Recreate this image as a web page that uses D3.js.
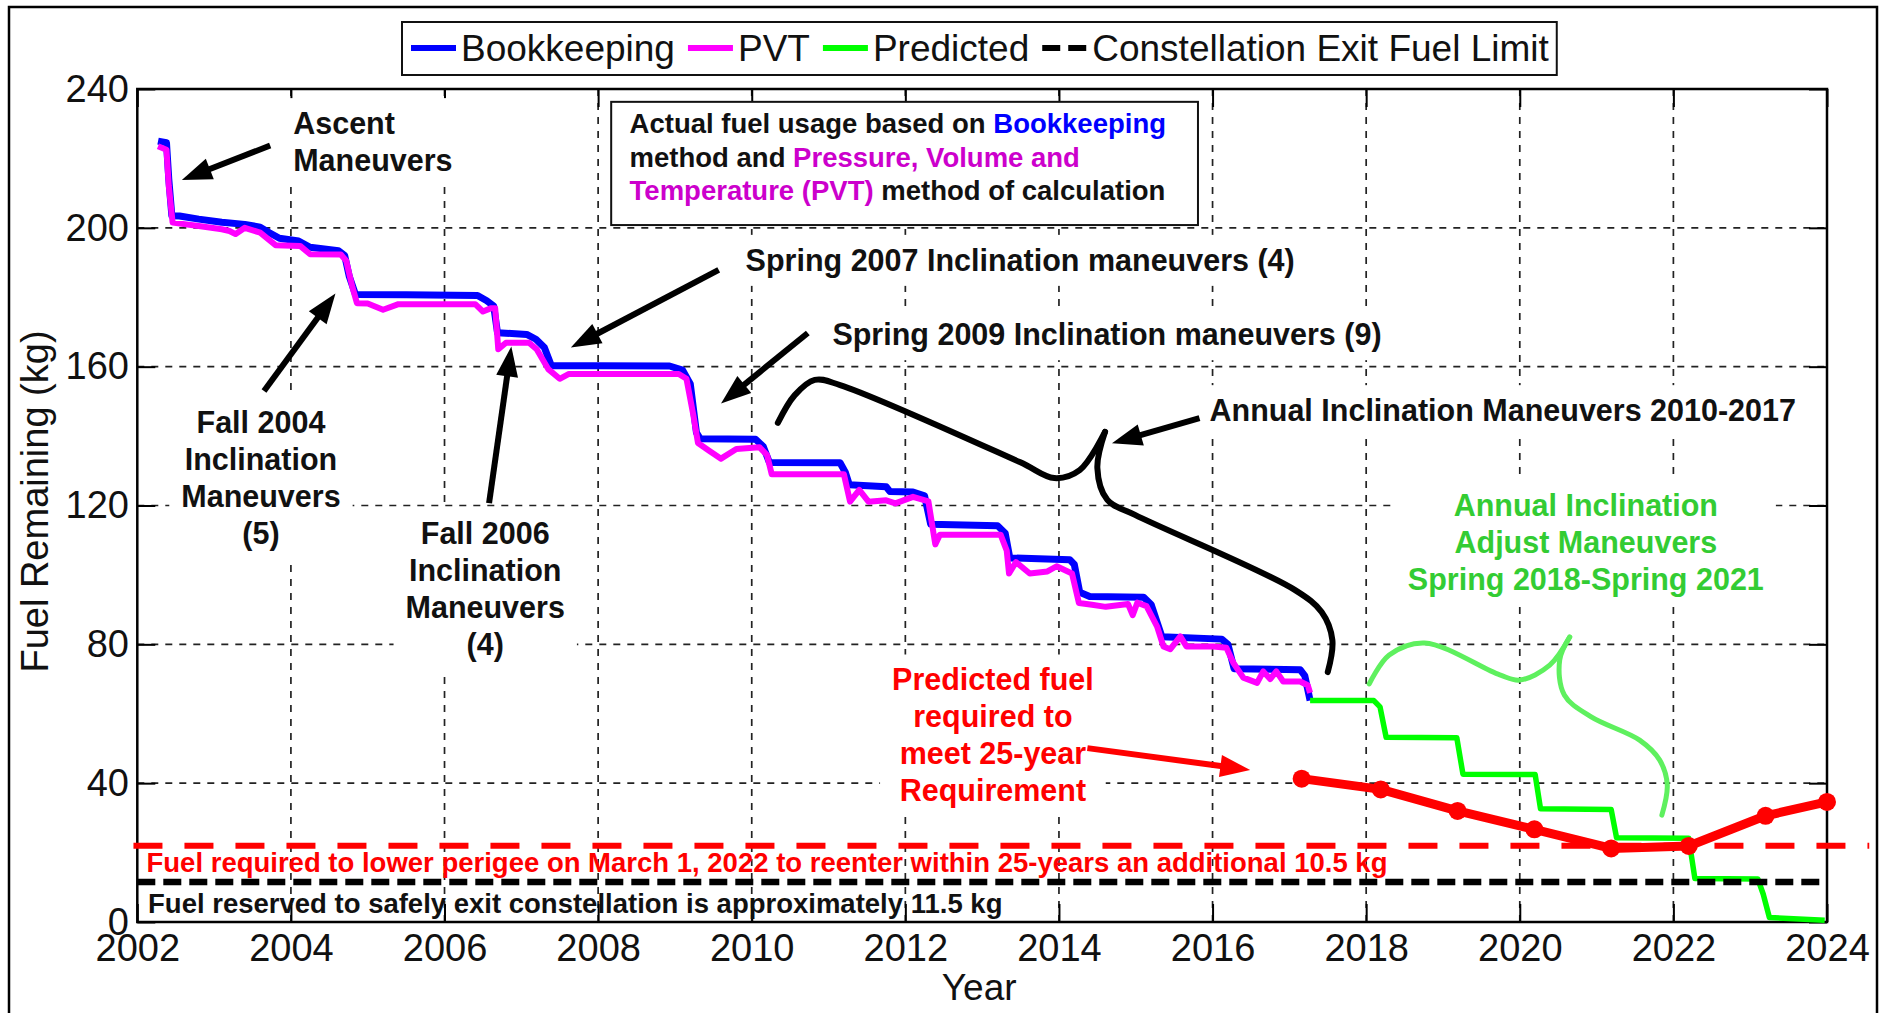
<!DOCTYPE html>
<html>
<head>
<meta charset="utf-8">
<script src="https://cdn.jsdelivr.net/npm/d3@7"></script>
<style>
  html, body { margin: 0; padding: 0; background: #fff; }
  svg { display: block; font-family: "Liberation Sans", Arial, sans-serif; }
  .note { font-weight: bold; font-size: 30.5px; }
  .tick text { font-size: 38px; fill: #111; }
</style>
</head>
<body>
<div id="chart"></div>
<script>
// fuel remaining, [year, kg]
const bookkeeping = [
  [2002.27, 225.0], [2002.38, 224.5], [2002.41, 214.0], [2002.45, 203.5], [2002.55, 203.4], [2002.8, 202.5],
  [2003.1, 201.6], [2003.4, 201.0], [2003.6, 200.2], [2003.72, 198.6], [2003.85, 197.0], [2004.1, 196.2],
  [2004.25, 194.4], [2004.62, 193.4], [2004.7, 192.0], [2004.76, 186.0], [2004.84, 180.8], [2005.5, 180.7],
  [2006.43, 180.5], [2006.55, 179.0], [2006.64, 177.5], [2006.69, 169.8], [2007.07, 169.3], [2007.19, 167.9],
  [2007.3, 165.5], [2007.39, 160.3], [2008.0, 160.3], [2008.93, 160.2], [2009.1, 159.0], [2009.2, 155.0],
  [2009.28, 141.0], [2009.33, 139.2], [2010.05, 139.1], [2010.15, 137.0], [2010.23, 132.4], [2011.15, 132.3],
  [2011.22, 129.5], [2011.27, 126.0], [2011.75, 125.4], [2011.8, 124.0], [2012.1, 123.9], [2012.25, 122.8],
  [2012.33, 114.6], [2013.2, 114.2], [2013.3, 112.0], [2013.36, 104.9], [2014.14, 104.4], [2014.2, 103.0],
  [2014.27, 95.0], [2014.4, 93.8], [2015.1, 93.6], [2015.2, 91.5], [2015.34, 82.2], [2016.12, 81.5],
  [2016.2, 80.0], [2016.28, 73.0], [2017.14, 72.7], [2017.2, 71.0], [2017.27, 63.8],
];

const pvt = [
  [2002.27, 223.5], [2002.38, 222.5], [2002.41, 212.0], [2002.46, 201.5], [2002.8, 200.5], [2003.1, 199.6],
  [2003.2, 199.1], [2003.28, 198.2], [2003.4, 200.0], [2003.6, 198.6], [2003.8, 195.0], [2004.12, 194.8],
  [2004.25, 192.4], [2004.65, 192.3], [2004.72, 190.5], [2004.8, 183.0], [2004.86, 178.3], [2005.0, 178.2],
  [2005.2, 176.4], [2005.4, 178.0], [2006.4, 178.0], [2006.5, 175.9], [2006.6, 176.8], [2006.66, 176.8],
  [2006.7, 165.0], [2006.8, 166.9], [2007.1, 166.9], [2007.2, 165.0], [2007.35, 159.3], [2007.5, 156.5],
  [2007.62, 157.9], [2009.05, 157.9], [2009.15, 156.5], [2009.24, 146.0], [2009.3, 138.0], [2009.45, 135.7],
  [2009.6, 133.5], [2009.8, 136.3], [2010.1, 136.8], [2010.2, 134.5], [2010.26, 129.0], [2011.2, 129.0],
  [2011.28, 121.1], [2011.4, 124.5], [2011.52, 121.1], [2011.75, 121.5], [2011.87, 120.6], [2012.1, 122.5],
  [2012.3, 121.2], [2012.39, 108.8], [2012.45, 111.6], [2013.24, 111.6], [2013.32, 107.0], [2013.35, 100.4],
  [2013.44, 103.7], [2013.62, 100.4], [2013.85, 101.0], [2013.97, 102.5], [2014.17, 100.4], [2014.26, 91.9],
  [2014.43, 91.4], [2014.61, 90.8], [2014.9, 91.6], [2014.96, 88.4], [2015.02, 92.0], [2015.14, 91.0],
  [2015.28, 85.0], [2015.36, 79.4], [2015.45, 78.6], [2015.58, 82.3], [2015.66, 79.4], [2016.01, 79.4],
  [2016.18, 79.0], [2016.27, 74.7], [2016.4, 70.4], [2016.58, 68.9], [2016.66, 72.2], [2016.75, 70.0],
  [2016.83, 72.2], [2016.92, 69.3], [2017.14, 69.3], [2017.24, 68.2], [2017.27, 66.0],
];

const predicted = [
  [2017.27, 63.8], [2018.1, 63.8], [2018.18, 62.0], [2018.26, 53.2], [2019.18, 53.1], [2019.26, 42.6],
  [2020.2, 42.5], [2020.27, 32.6], [2021.19, 32.4], [2021.26, 24.3], [2022.2, 24.1], [2022.28, 12.5],
  [2023.1, 12.4], [2023.17, 8.0], [2023.25, 1.3], [2023.97, 0.5],
];

// fuel needed to meet the 25-year requirement, yearly points
const requiredFuel = [
  [2017.16, 41.3], [2018.19, 38.2], [2019.19, 32.0], [2020.19, 26.7],
  [2021.19, 21.2], [2022.2, 21.9], [2023.2, 30.6], [2024.0, 34.6],
];

const exitFuelLimit = 11.5;
const lowerPerigeeFuel = 22;

const xTicks = [2002, 2004, 2006, 2008, 2010, 2012, 2014, 2016, 2018, 2020, 2022, 2024];
const yTicks = [0, 40, 80, 120, 160, 200, 240];

const legendItems = [
  { label: 'Bookkeeping', color: '#0000ff', dash: null },
  { label: 'PVT', color: '#ff00ff', dash: null },
  { label: 'Predicted', color: '#00ff00', dash: null },
  { label: 'Constellation Exit Fuel Limit', color: '#000', dash: '18,8' },
];

// annotations, anchored in data units [year, kg]
const notes = [
  { lines: ['Ascent', 'Maneuvers'], at: [2004.03, 227.0], anchor: 'start', color: '#111' },
  { lines: ['Fall 2004', 'Inclination', 'Maneuvers', '(5)'], at: [2003.61, 140.9], anchor: 'middle', color: '#111' },
  { lines: ['Fall 2006', 'Inclination', 'Maneuvers', '(4)'], at: [2006.53, 108.8], anchor: 'middle', color: '#111' },
  { lines: ['Spring 2007 Inclination maneuvers (4)'], at: [2009.92, 187.6], anchor: 'start', color: '#111' },
  { lines: ['Spring 2009 Inclination maneuvers (9)'], at: [2011.05, 166.2], anchor: 'start', color: '#111' },
  { lines: ['Annual Inclination Maneuvers 2010-2017'], at: [2015.96, 144.3], anchor: 'start', color: '#111' },
  { lines: ['Annual Inclination', 'Adjust Maneuvers', 'Spring 2018-Spring 2021'], at: [2020.86, 117.1], anchor: 'middle', color: '#33cc33' },
  { lines: ['Predicted fuel', 'required to', 'meet 25-year', 'Requirement'], at: [2013.14, 66.7], anchor: 'middle', color: '#ff0000' },
];

const arrows = [
  { from: [2003.73, 223.7], to: [2002.58, 213.8], color: '#000' },
  { from: [2003.65, 153.0], to: [2004.58, 181.1], color: '#000' },
  { from: [2006.58, 120.7], to: [2006.87, 165.8], color: '#000' },
  { from: [2009.57, 187.9], to: [2007.645, 165.5], color: '#000' },
  { from: [2010.73, 169.7], to: [2009.6, 149.4], color: '#000' },
  { from: [2015.83, 145.2], to: [2014.69, 137.9], color: '#000' },
  { from: [2014.37, 50.1], to: [2016.49, 43.8], color: '#ff0000' },
];

const blackBraceLeft = [[2010.34, 143.8], [2010.56, 151.8], [2010.82, 156.2], [2011.15, 154.7], [2013.49, 132.5], [2013.94, 127.9], [2014.27, 130.2], [2014.6, 141.2]];
const blackBraceRight = [[2014.6, 141.2], [2014.5, 130.8], [2014.63, 121.6], [2014.99, 117.3], [2017.07, 95.7], [2017.42, 89.3], [2017.56, 81.2], [2017.5, 72.0]];
const greenBraceLeft = [[2018.04, 68.6], [2018.3, 76.9], [2018.76, 80.4], [2019.74, 71.2], [2020.0, 69.7], [2020.39, 74.0], [2020.65, 82.1]];
const greenBraceRight = [[2020.65, 82.1], [2020.52, 75.5], [2020.58, 65.4], [2020.93, 59.1], [2021.56, 52.4], [2021.82, 46.7], [2021.92, 39.5], [2021.85, 30.8]];

const width = 1883;
const height = 1013;

const x = d3.scaleLinear().domain([2002, 2024]).range([137.3, 1827]);
const y = d3.scaleLinear().domain([0, 240]).range([922, 89]);

const svg = d3.select('#chart').append('svg')
  .attr('width', width)
  .attr('height', height)
  .attr('viewBox', [0, 0, width, height].join(' '));

svg.append('rect').attr('width', width).attr('height', height).attr('fill', '#fff');

// figure frame
svg.append('path')
  .attr('d', `M9,${height} V7 H1877 V${height}`)
  .attr('fill', 'none').attr('stroke', '#000').attr('stroke-width', 2.5);

// dotted grid
const grid = svg.append('g')
  .attr('stroke', '#222').attr('stroke-width', 1.7).attr('stroke-dasharray', '7,7');
grid.selectAll('.gx').data(xTicks.slice(1, -1)).join('line')
  .attr('x1', (d) => x(d)).attr('x2', (d) => x(d))
  .attr('y1', y(240)).attr('y2', y(0));
grid.selectAll('.gy').data(yTicks.slice(1, -1)).join('line')
  .attr('x1', x(2002)).attr('x2', x(2024))
  .attr('y1', (d) => y(d)).attr('y2', (d) => y(d));

// axes, ticks pointing inward like MATLAB
svg.append('g').attr('transform', `translate(0,${y(0)})`)
  .call(d3.axisBottom(x).tickValues(xTicks).tickFormat(d3.format('d')).tickSize(-18).tickSizeOuter(0).tickPadding(12.5));
svg.append('g').attr('transform', `translate(${x(2002)},0)`)
  .call(d3.axisLeft(y).tickValues(yTicks).tickSize(-18).tickSizeOuter(0).tickPadding(8.3));
svg.append('g').attr('transform', `translate(0,${y(240)})`)
  .call(d3.axisTop(x).tickValues(xTicks).tickFormat('').tickSize(-18).tickSizeOuter(0));
svg.append('g').attr('transform', `translate(${x(2024)},0)`)
  .call(d3.axisRight(y).tickValues(yTicks).tickFormat('').tickSize(-18).tickSizeOuter(0));
svg.selectAll('.domain').remove();
svg.selectAll('.tick line').attr('stroke', '#000').attr('stroke-width', 2);
svg.selectAll('.tick text').attr('font-family', null).attr('font-size', null);

svg.append('rect')
  .attr('x', x(2002)).attr('y', y(240))
  .attr('width', x(2024) - x(2002)).attr('height', y(0) - y(240))
  .attr('fill', 'none').attr('stroke', '#000').attr('stroke-width', 2.5);

// axis titles
svg.append('text')
  .attr('x', (x(2002) + x(2024)) / 2 - 3).attr('y', 1000)
  .attr('text-anchor', 'middle').attr('font-size', 37).attr('fill', '#111')
  .text('Year');
svg.append('text')
  .attr('transform', `translate(48,${(y(0) + y(240)) / 2 - 4}) rotate(-90)`)
  .attr('text-anchor', 'middle').attr('font-size', 38).attr('fill', '#111')
  .text('Fuel Remaining (kg)');

// annotation texts with white boxes, they hide the grid
const noteLayer = svg.append('g');
notes.forEach((note) => {
  const g = noteLayer.append('g');
  const bg = g.append('rect').attr('fill', '#fff');
  const text = g.append('text')
    .attr('class', 'note')
    .attr('fill', note.color)
    .attr('text-anchor', note.anchor);
  note.lines.forEach((line, i) => {
    text.append('tspan')
      .attr('x', x(note.at[0]))
      .attr('y', y(note.at[1]) + i * 37)
      .text(line);
  });
  const box = text.node().getBBox();
  bg.attr('x', box.x - 12).attr('y', box.y - 8)
    .attr('width', box.width + 24).attr('height', box.height + 16);
});

// text box about the measurement methods
const boxG = svg.append('g');
boxG.append('rect')
  .attr('x', x(2008.17)).attr('y', y(236.3))
  .attr('width', x(2015.81) - x(2008.17)).attr('height', y(200.8) - y(236.3))
  .attr('fill', '#fff').attr('stroke', '#111').attr('stroke-width', 2);
const boxText = boxG.append('text')
  .attr('font-weight', 'bold').attr('font-size', 27.5).attr('fill', '#111');
const boxLines = [
  [['Actual fuel usage based on ', '#111'], ['Bookkeeping', '#0000ff']],
  [['method and ', '#111'], ['Pressure, Volume and', '#cc00cc']],
  [['Temperature (PVT)', '#cc00cc'], [' method of calculation', '#111']],
];
const boxBaselines = [227.3, 217.5, 208.0];
boxLines.forEach((parts, i) => {
  parts.forEach(([str, color], j) => {
    const t = boxText.append('tspan').attr('fill', color).text(str);
    if (j === 0) t.attr('x', x(2008.41)).attr('y', y(boxBaselines[i]));
  });
});

// fuel series
const line = d3.line().x((d) => x(d[0])).y((d) => y(d[1]));
const dataLayer = svg.append('g').attr('fill', 'none').attr('stroke-linejoin', 'round');
dataLayer.append('path').datum(bookkeeping).attr('d', line).attr('stroke', '#0000ff').attr('stroke-width', 7);
dataLayer.append('path').datum(pvt).attr('d', line).attr('stroke', '#ff00ff').attr('stroke-width', 6);
dataLayer.append('path').datum(predicted).attr('d', line).attr('stroke', '#00ff00').attr('stroke-width', 5.5);

// limits
dataLayer.append('line')
  .attr('x1', x(2002)).attr('x2', x(2024))
  .attr('y1', y(exitFuelLimit)).attr('y2', y(exitFuelLimit))
  .attr('stroke', '#000').attr('stroke-width', 6.5).attr('stroke-dasharray', '18,8');
dataLayer.append('line')
  .attr('x1', x(2001.95)).attr('x2', x(2024.55))
  .attr('y1', y(lowerPerigeeFuel)).attr('y2', y(lowerPerigeeFuel))
  .attr('stroke', '#ff0000').attr('stroke-width', 6).attr('stroke-dasharray', '29,22');

dataLayer.append('path').datum(requiredFuel).attr('d', line).attr('stroke', '#ff0000').attr('stroke-width', 9);
svg.append('g').selectAll('circle').data(requiredFuel).join('circle')
  .attr('cx', (d) => x(d[0])).attr('cy', (d) => y(d[1]))
  .attr('r', 9).attr('fill', '#ff0000');

// braces
const brace = d3.line().x((d) => x(d[0])).y((d) => y(d[1])).curve(d3.curveCatmullRom.alpha(0.5));
const braceLayer = svg.append('g').attr('fill', 'none').attr('stroke-linecap', 'round');
[blackBraceLeft, blackBraceRight].forEach((pts) => {
  braceLayer.append('path').datum(pts).attr('d', brace).attr('stroke', '#000').attr('stroke-width', 6);
});
[greenBraceLeft, greenBraceRight].forEach((pts) => {
  braceLayer.append('path').datum(pts).attr('d', brace).attr('stroke', '#5ef05e').attr('stroke-width', 5);
});

// arrows
const arrowLayer = svg.append('g');
arrows.forEach((a) => {
  const x1 = x(a.from[0]);
  const y1 = y(a.from[1]);
  const x2 = x(a.to[0]);
  const y2 = y(a.to[1]);
  const ang = Math.atan2(y2 - y1, x2 - x1);
  const len = 30;
  const half = 11;
  const bx = x2 - len * Math.cos(ang);
  const by = y2 - len * Math.sin(ang);
  arrowLayer.append('line')
    .attr('x1', x1).attr('y1', y1)
    .attr('x2', bx + 4 * Math.cos(ang)).attr('y2', by + 4 * Math.sin(ang))
    .attr('stroke', a.color).attr('stroke-width', 6);
  arrowLayer.append('path')
    .attr('d', `M${x2},${y2} L${bx - half * Math.sin(ang)},${by + half * Math.cos(ang)} L${bx + half * Math.sin(ang)},${by - half * Math.cos(ang)} Z`)
    .attr('fill', a.color);
});

// labels of the two limits
svg.append('text')
  .attr('x', x(2002.12)).attr('y', y(14.5))
  .attr('font-weight', 'bold').attr('font-size', 27.5).attr('fill', '#ff0000')
  .text('Fuel required to lower perigee on March 1, 2022 to reenter within 25-years an additional 10.5 kg');
svg.append('text')
  .attr('x', x(2002.14)).attr('y', y(2.6))
  .attr('font-weight', 'bold').attr('font-size', 27.5).attr('fill', '#111')
  .text('Fuel reserved to safely exit constellation is approximately 11.5 kg');

// legend
const legend = svg.append('g');
const legendBox = legend.append('rect')
  .attr('fill', '#fff').attr('stroke', '#111').attr('stroke-width', 2);
let cursor = 411;
legendItems.forEach((item) => {
  legend.append('line')
    .attr('x1', cursor).attr('x2', cursor + 45)
    .attr('y1', 48).attr('y2', 48)
    .attr('stroke', item.color).attr('stroke-width', 6)
    .attr('stroke-dasharray', item.dash);
  const t = legend.append('text')
    .attr('x', cursor + 50).attr('y', 61)
    .attr('font-size', 37).attr('fill', '#111')
    .text(item.label);
  cursor += 50 + t.node().getComputedTextLength() + 13;
});
legendBox.attr('x', 402).attr('y', 22).attr('width', cursor - 13 + 8 - 402).attr('height', 53);
</script>
</body>
</html>
